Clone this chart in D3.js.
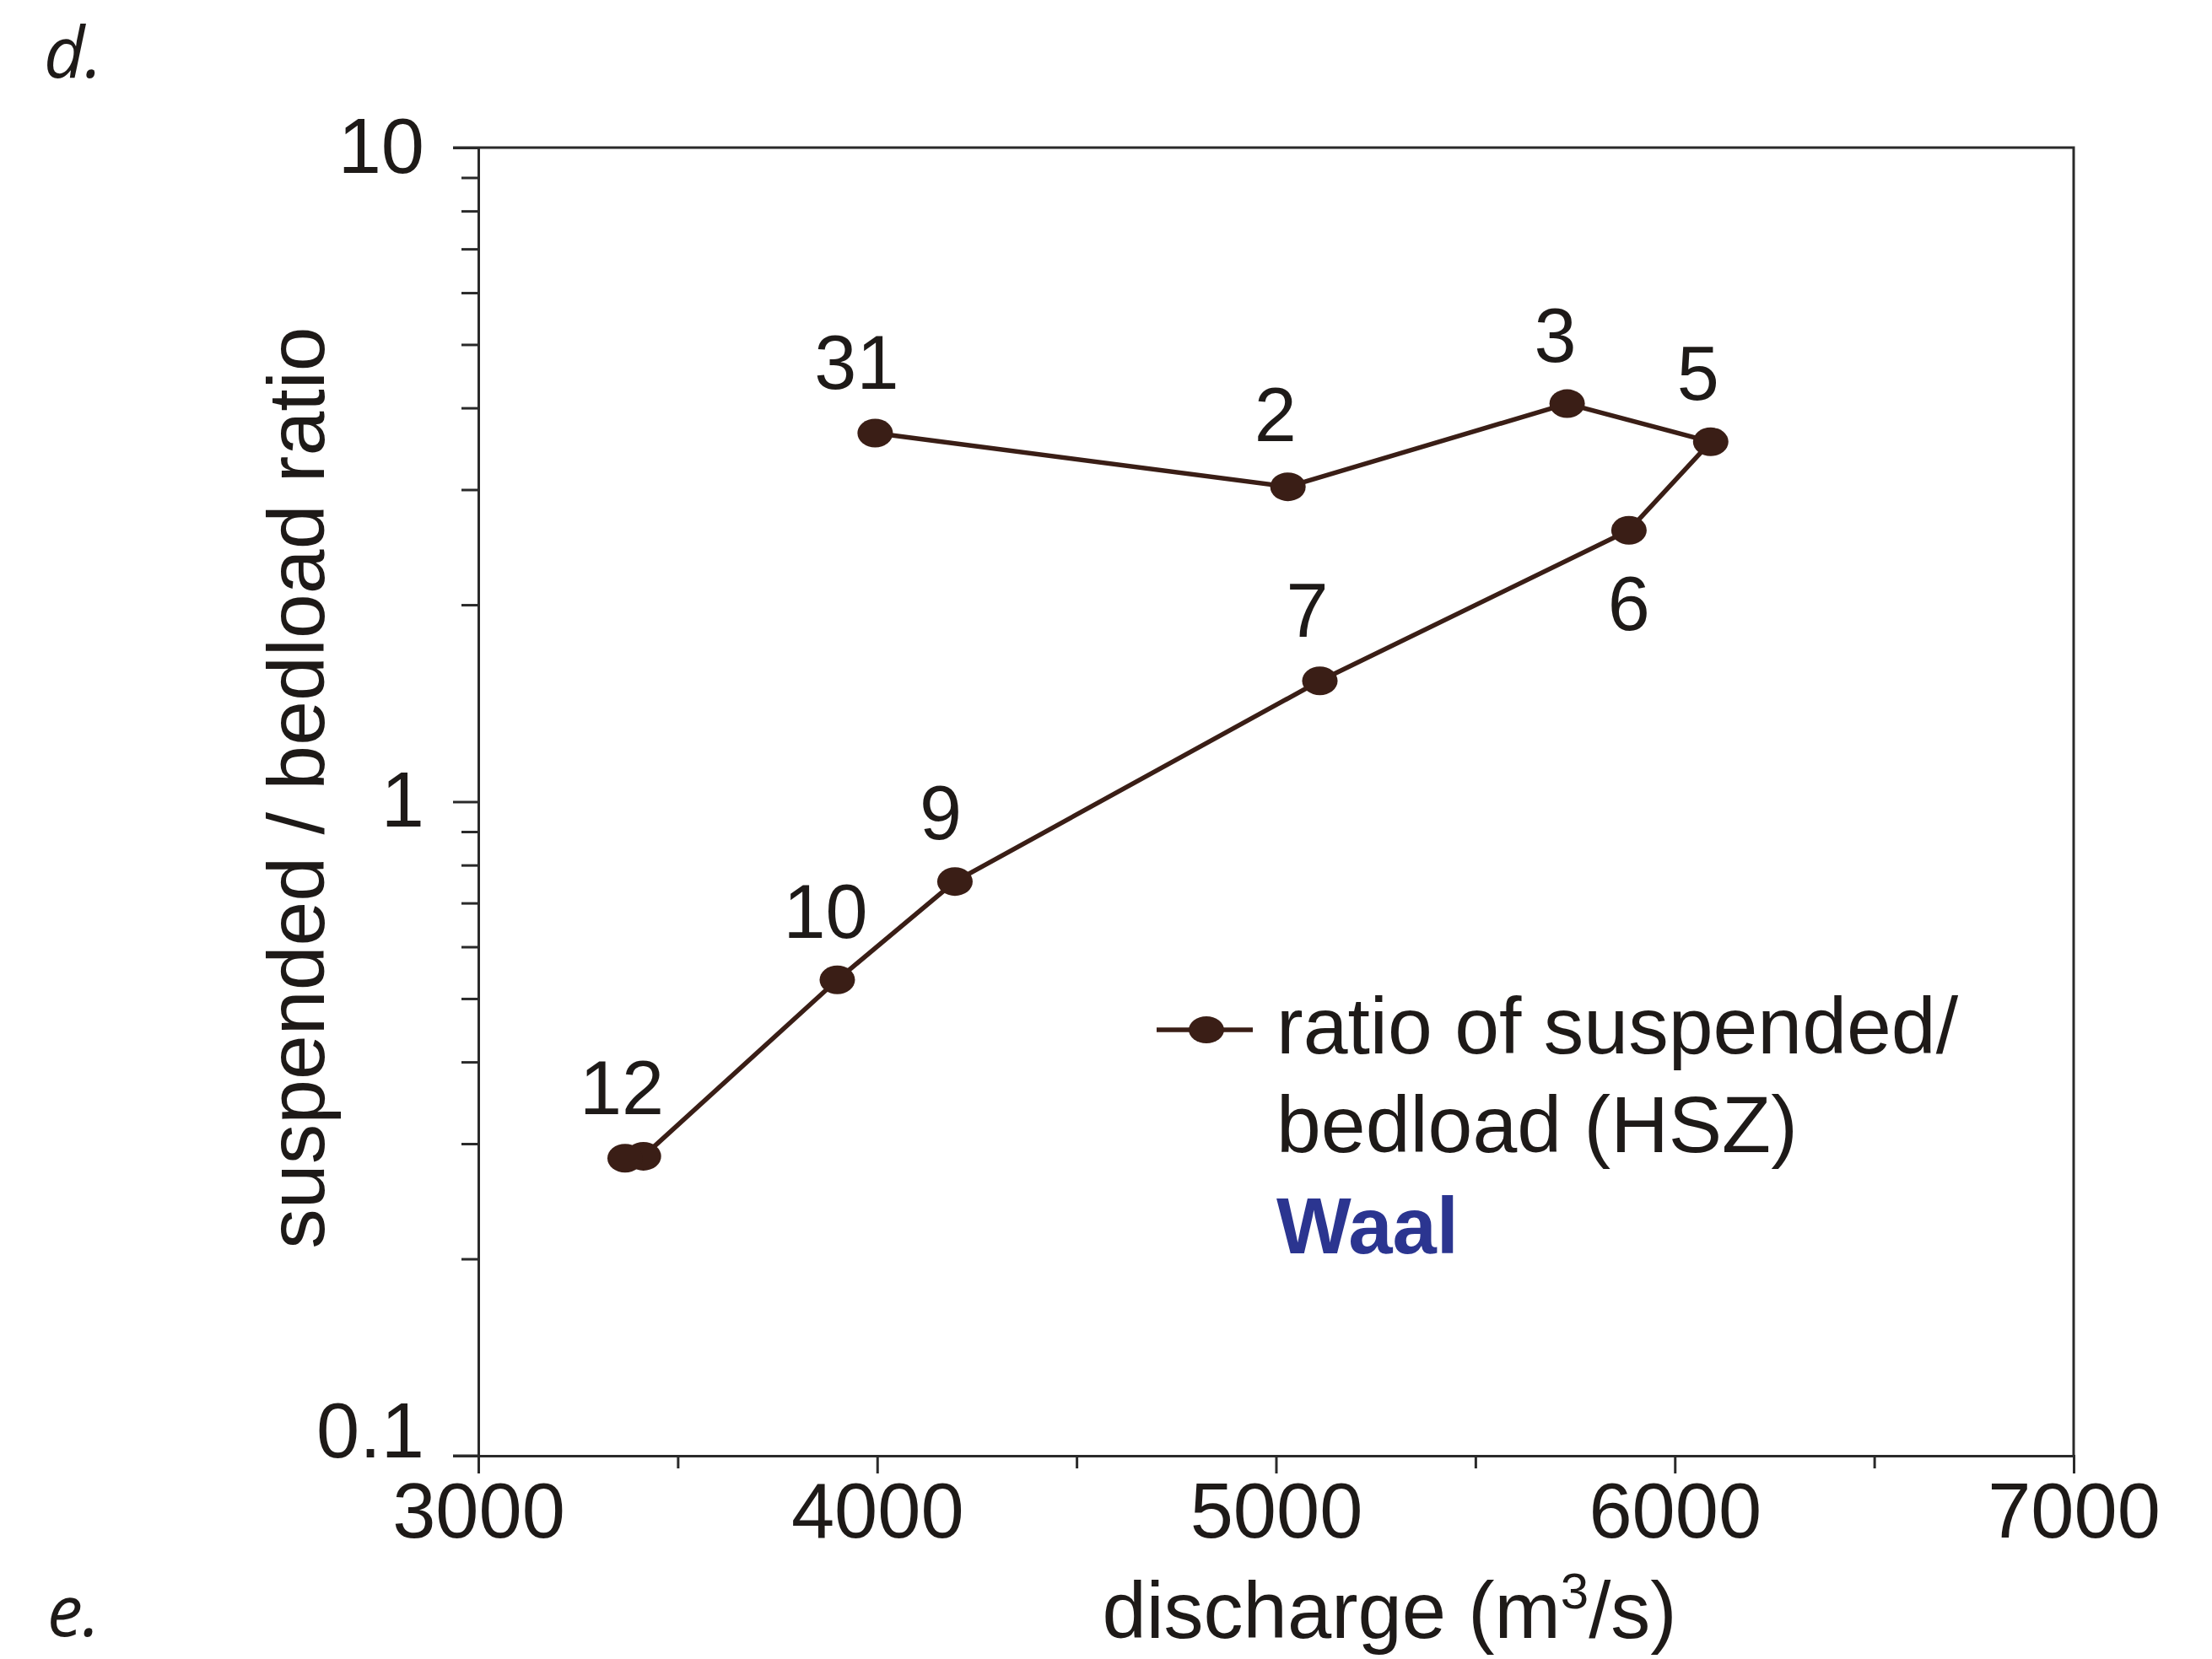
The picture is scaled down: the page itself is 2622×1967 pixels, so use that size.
<!DOCTYPE html>
<html>
<head>
<meta charset="utf-8">
<script src="https://cdn.jsdelivr.net/npm/d3@7"></script>
<style>
  html, body { margin: 0; padding: 0; background: #fff; }
  svg { display: block; }
</style>
</head>
<body>
<svg id="chart" width="2622" height="1967"></svg>
<script>
// ---- data ----
const dayLabels   = ["31", "2", "3", "5", "6", "7", "9", "10", "", "12"];
const discharge   = [3995, 5030, 5730, 6090, 5885, 5110, 4195, 3900, 3414, 3368];
const ratio       = [3.66, 3.03, 4.06, 3.55, 2.60, 1.53, 0.755, 0.534, 0.287, 0.285];
const xTickValues = [3000, 4000, 5000, 6000, 7000];
const xMinorTicks = [3500, 4500, 5500, 6500];
const yTickValues = [0.1, 1, 10];
const yTickLabels = ["0.1", "1", "10"];
const yMinorTicks = [0.2, 0.3, 0.4, 0.5, 0.6, 0.7, 0.8, 0.9, 2, 3, 4, 5, 6, 7, 8, 9];
const legendLines = ["ratio of suspended/", "bedload (HSZ)"];
const riverName   = "Waal";

// label offsets relative to the point (layout, not data)
const labelOffsets = [[-22,-53],[-15,-54],[-14,-50],[-15,-50],[0,118],[-15,-52],[-17,-50],[-14,-50],[0,0],[-4,-52]];

const svg = d3.select("#chart");
svg.append("rect").attr("width", 2622).attr("height", 1967).attr("fill", "#fff");

const L = 567, R = 2458, T = 175, B = 1726;
const x = d3.scaleLinear().domain([3000, 7000]).range([L, R]);
const y = d3.scaleLog().domain([0.1, 10]).range([B, T]);

const font = "'Liberation Sans', Arial, Helvetica, sans-serif";
const axisColor = "#2a2a2a";
const textColor = "#1e1a18";
const markColor = "#3a1e16";

// frame (top & right)
svg.append("path")
  .attr("d", `M${x(3000)-30},${T}H${R}V${B}`)
  .attr("fill", "none").attr("stroke", axisColor).attr("stroke-width", 3);

// y axis major
const yAxis = svg.append("g").attr("transform", `translate(${L},0)`)
  .call(d3.axisLeft(y).tickValues(yTickValues).tickSize(30).tickPadding(34)
        .tickFormat((d, i) => yTickLabels[i]));
// y axis minor
svg.append("g").attr("transform", `translate(${L},0)`)
  .call(d3.axisLeft(y).tickValues(yMinorTicks).tickSize(20).tickFormat(""))
  .call(g => g.select(".domain").remove());

// x axis major
const xAxis = svg.append("g").attr("transform", `translate(0,${B})`)
  .call(d3.axisBottom(x).tickValues(xTickValues).tickSize(21).tickPadding(11)
        .tickFormat(d3.format("d")));
// x axis minor
svg.append("g").attr("transform", `translate(0,${B})`)
  .call(d3.axisBottom(x).tickValues(xMinorTicks).tickSize(15).tickFormat(""))
  .call(g => g.select(".domain").remove());

svg.selectAll(".domain").attr("stroke", axisColor).attr("stroke-width", 3);
svg.selectAll(".tick line").attr("stroke", axisColor).attr("stroke-width", 3);
svg.selectAll(".tick text")
  .attr("font-family", font).attr("font-size", 92).attr("fill", textColor);
// "0.1" sits above its tick so it does not collide with "3000"
yAxis.selectAll(".tick text").filter(d => d === 0.1).attr("dy", "0.02em");
// extend x domain line left to the end of the 0.1 tick
svg.append("line").attr("x1", L - 30).attr("x2", L).attr("y1", B).attr("y2", B)
  .attr("stroke", axisColor).attr("stroke-width", 3);

// axis titles
const xt = svg.append("text").attr("x", 1647).attr("y", 1942)
  .attr("text-anchor", "middle").attr("font-family", font).attr("font-size", 94)
  .attr("fill", textColor);
xt.append("tspan").text("discharge (m");
xt.append("tspan").attr("dy", -35).attr("font-size", 60).text("3");
xt.append("tspan").attr("dy", 35).text("/s)");

svg.append("text").attr("transform", "translate(384,934) rotate(-90)")
  .attr("text-anchor", "middle").attr("font-family", font).attr("font-size", 95)
  .attr("fill", textColor).text("suspended / bedload ratio");

// panel letters
svg.append("text").attr("x", 52).attr("y", 92)
  .attr("font-family", "'Open Sans', 'DejaVu Sans', sans-serif").attr("font-style", "italic")
  .attr("font-size", 84).attr("fill", textColor).text("d.");
svg.append("text").attr("x", 56).attr("y", 1940)
  .attr("font-family", "'Open Sans', 'DejaVu Sans', sans-serif").attr("font-style", "italic")
  .attr("font-size", 84).attr("fill", textColor).text("e.");

// series
const pts = discharge.map((d, i) => ({ q: d, r: ratio[i], label: dayLabels[i], off: labelOffsets[i] }));
const line = d3.line().x(d => x(d.q)).y(d => y(d.r));
svg.append("path").datum(pts).attr("d", line)
  .attr("fill", "none").attr("stroke", markColor).attr("stroke-width", 5.5)
  .attr("stroke-linejoin", "round");

svg.selectAll("ellipse.pt").data(pts).enter().append("ellipse")
  .attr("class", "pt")
  .attr("cx", d => x(d.q)).attr("cy", d => y(d.r))
  .attr("rx", 21).attr("ry", 17).attr("fill", markColor);

svg.selectAll("text.lbl").data(pts.filter(d => d.label !== "")).enter().append("text")
  .attr("class", "lbl")
  .attr("x", d => x(d.q) + d.off[0]).attr("y", d => y(d.r) + d.off[1])
  .attr("text-anchor", "middle").attr("font-family", font).attr("font-size", 90)
  .attr("fill", textColor).text(d => d.label);

// legend
const lg = svg.append("g");
lg.append("line").attr("x1", 1371).attr("x2", 1485).attr("y1", 1221).attr("y2", 1221)
  .attr("stroke", markColor).attr("stroke-width", 5.5);
lg.append("ellipse").attr("cx", 1430).attr("cy", 1221).attr("rx", 21).attr("ry", 16)
  .attr("fill", markColor);
lg.selectAll("text.leg").data(legendLines).enter().append("text")
  .attr("class", "leg")
  .attr("x", 1513).attr("y", (d, i) => 1249 + i * 117)
  .attr("font-family", font).attr("font-size", 95).attr("fill", textColor).text(d => d);
lg.append("text").attr("x", 1513).attr("y", 1486)
  .attr("font-family", font).attr("font-size", 94).attr("font-weight", "bold")
  .attr("fill", "#2b3590").text(riverName);
</script>
</body>
</html>
